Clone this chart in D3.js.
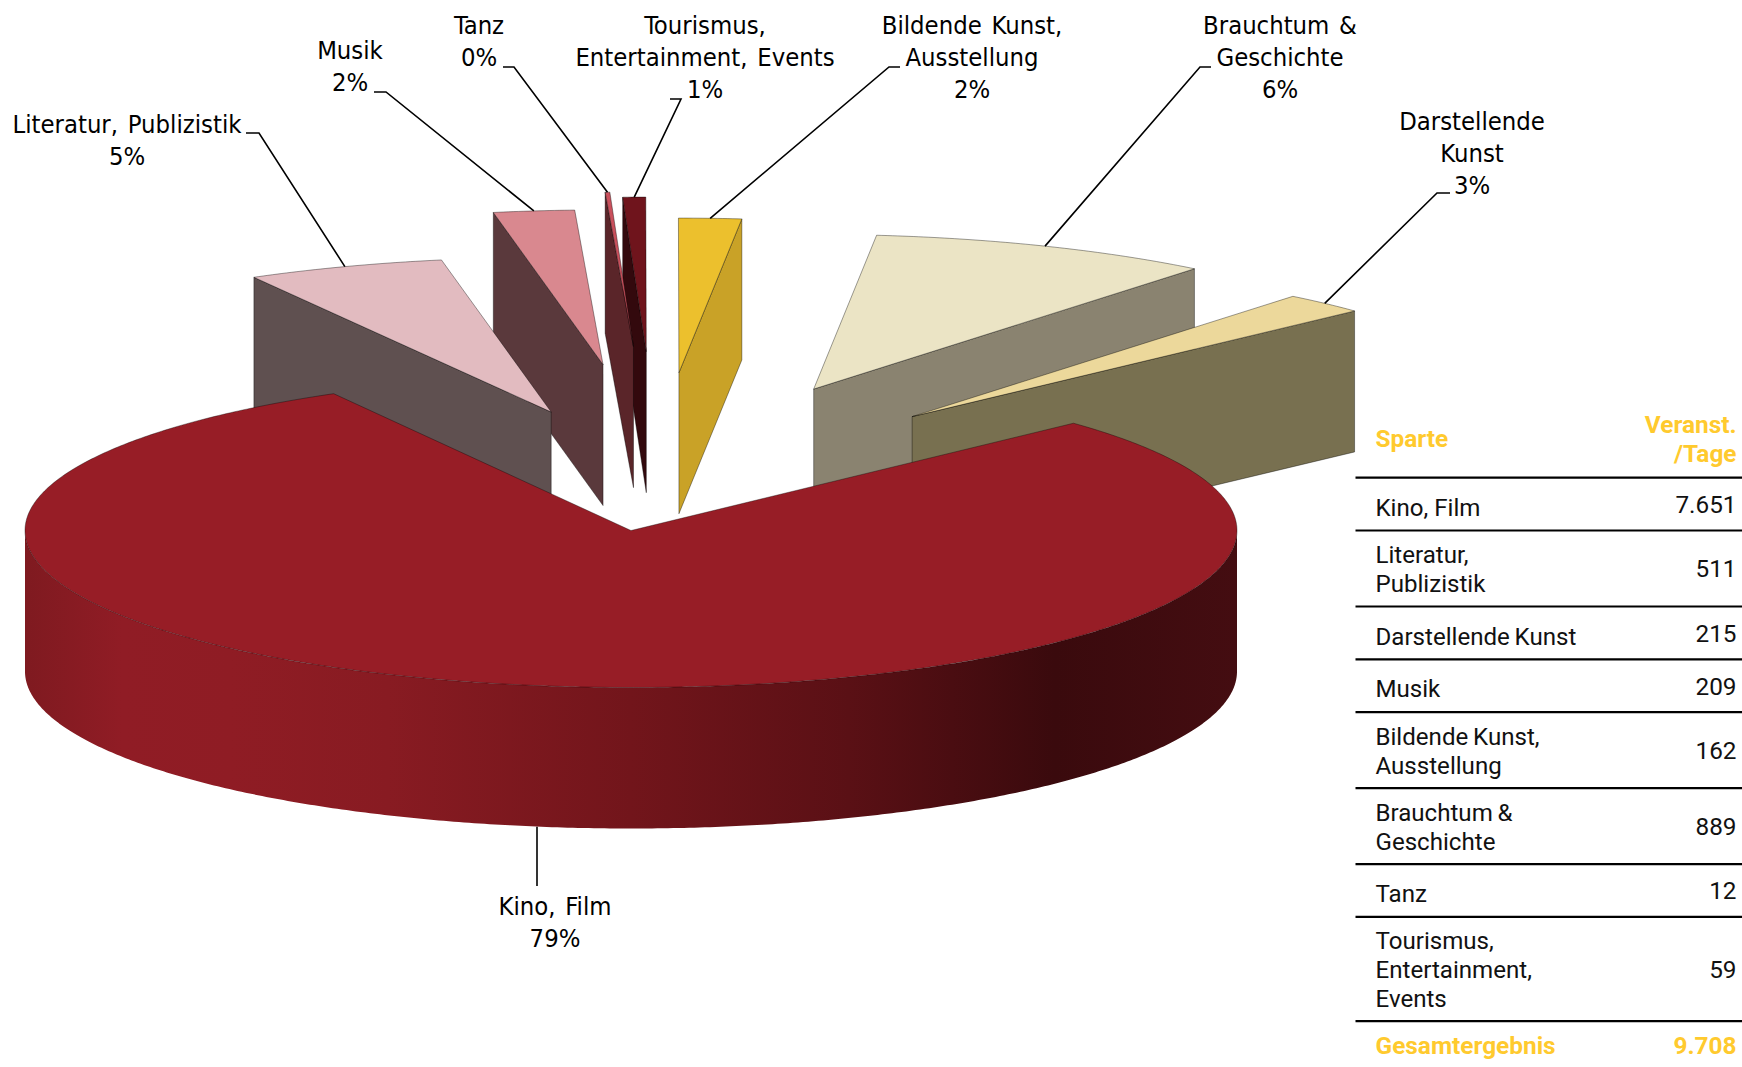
<!DOCTYPE html>
<html><head><meta charset="utf-8">
<script src="https://cdnjs.cloudflare.com/ajax/libs/d3/7.8.5/d3.min.js"></script>
<style>html,body{margin:0;padding:0;background:#fff}svg{display:block}</style></head>
<body><svg id="c" width="1742" height="1067"></svg>
<script>
// ---- data ----
const categories = ["Kino, Film","Literatur, Publizistik","Musik","Tanz","Tourismus, Entertainment, Events","Bildende Kunst, Ausstellung","Brauchtum & Geschichte","Darstellende Kunst"];
const pieValues  = [7651,511,209,12,59,162,889,215];
const pctLabels  = ["79%","5%","2%","0%","1%","2%","6%","3%"];
const labelLines = [["Kino, Film"],["Literatur, Publizistik"],["Musik"],["Tanz"],["Tourismus,","Entertainment, Events"],["Bildende Kunst,","Ausstellung"],["Brauchtum &","Geschichte"],["Darstellende","Kunst"]];
// how far each slice is pulled out of the pie (radius units) and in which bearing (degrees)
const explodeDist    = [0,.766,1.058,1.171,1.139,1.008,.950,.861];
const explodeBearing = [0,-9.9,-2.5,.2,1.27,4.5,18.5,32.6];
const topColors  = ["#971d26","#e2bbc0","#d9888f","#c9505c","#6f141c","#ecc02d","#ebe4c5","#ecd89b"];
const sideColors = ["#5a1016","#5f5050","#5a393c","#5a2529","#33090d","#c9a227","#8a8370","#787050"];
const drawOrder  = [4,3,2,1,5,6,7,0];
const labelX     = [555,127,350,479,705,972,1280,1472];
const labelY     = [915,133,59,34,34,34,34,129.5];
const elbowStart = [null,[246,133],[374,92],[503,67],[670,99],[900,67],[1211,67],[1450,193]];
const elbowEnd   = [[537,886],[259,133],[386,92],[514,67],[681,99],[889,67],[1200,67],[1437,193]];

const tableCats  = [["Kino, Film"],["Literatur,","Publizistik"],["Darstellende Kunst"],["Musik"],["Bildende Kunst,","Ausstellung"],["Brauchtum &","Geschichte"],["Tanz"],["Tourismus,","Entertainment,","Events"]];
const tableVals  = [7651,511,215,209,162,889,12,59];
const tableHead  = ["Sparte",["Veranst.","/Tage"]];
const totalLabel = "Gesamtergebnis";

// ---- geometry ----
const cx=631, cy=530.5, rx=606, ry=157, depth=141, startBearing=46.9, looseRim=.985;
const sx=d3.scaleLinear().domain([-1,1]).range([cx-rx,cx+rx]);
const sy=d3.scaleLinear().domain([-1,1]).range([cy-ry,cy+ry]);
const rad=d=>d*Math.PI/180;
const arcs=d3.pie().sort(null).startAngle(rad(startBearing)).endAngle(rad(startBearing+360))(pieValues);
const svg=d3.select("#c");
const defs=svg.append("defs");
const grad=defs.append("linearGradient").attr("id","wall").attr("gradientUnits","userSpaceOnUse")
  .attr("x1",sx(-1)).attr("x2",sx(1)).attr("y1",0).attr("y2",0);
[[0,"#7f1a20"],[.08,"#901c25"],[.17,"#8f1c24"],[.3,"#881b22"],[.5,"#72151b"],[.68,"#5a1015"],[.85,"#3a0a0d"],[1,"#440d11"]]
 .forEach(([o,c])=>grad.append("stop").attr("offset",o).attr("stop-color",c));

const lineGen=d3.line();
const ux=b=>Math.sin(b), uy=b=>-Math.cos(b);
function apex(i){const d=explodeDist[i],b=rad(explodeBearing[i]);return [d*ux(b),d*uy(b)];}
function pt(i,b,r=1,z=0){const a=apex(i);const k=i===0?1:looseRim;return [sx(a[0]+r*ux(b)),sy(a[1]+r*k*uy(b))+z];}
function rim(i,a0,a1,z=0){const n=Math.max(2,Math.ceil(Math.abs(a1-a0)/rad(.5)));
  return d3.range(n+1).map(k=>pt(i,a0+(a1-a0)*k/n,1,z));}

const stroke={stroke:"#000","stroke-opacity":.55,"stroke-width":.7,"stroke-linejoin":"round"};
function face(pts,fill,s){const p=svg.append("path").attr("d",lineGen(pts)+"Z").attr("fill",fill);
  Object.entries(s||stroke).forEach(([k,v])=>p.attr(k,v));return p;}
const signedBearing=b=>{const d=((b*180/Math.PI)%360+360)%360;return d>180?d-360:d;};

drawOrder.forEach(i=>{
  const a=arcs[i], s=a.startAngle, e=a.endAngle;
  const topPts=[pt(i,0,0)].concat(rim(i,s,e));
  if(i===0){
    // outer wall: only the half facing the viewer
    const front=rim(i,rad(90),rad(270));
    const back=rim(i,rad(270),rad(90),depth);
    face(front.concat(back),"url(#wall)",{stroke:"none"});
  }else{
    // cut face seen from the front: whichever edge lies further from 12 o'clock
    const b=Math.abs(signedBearing(s))>Math.abs(signedBearing(e))?s:e;
    const p0=pt(i,0,0),p1=pt(i,b);
    face([p0,p1,[p1[0],p1[1]+depth],[p0[0],p0[1]+depth]],sideColors[i]);
  }
  face(topPts,topColors[i],i===0?{stroke:"#000","stroke-opacity":.5,"stroke-width":.7}:stroke);
});

// leader lines
arcs.forEach((a,i)=>{
  const mid=(a.startAngle+a.endAngle)/2;
  const tip=pt(i,mid,1,i===0?depth:0);
  const pts=i===0?[[elbowEnd[i][0],tip[1]],elbowEnd[i]]:[tip,elbowEnd[i],elbowStart[i]];
  svg.append("path").attr("d",lineGen(pts)).attr("fill","none").attr("stroke","#000").attr("stroke-width",1.6);
});

// slice labels
const labelFont='"DejaVu Sans Condensed","DejaVu Sans",sans-serif';
categories.forEach((c,i)=>{
  const g=svg.append("text").attr("font-family",labelFont).attr("font-size",25.4).attr("fill","#000")
    .attr("font-stretch","condensed").attr("text-anchor","middle").attr("word-spacing",2.5);
  labelLines[i].concat([pctLabels[i]]).forEach((t,k)=>g.append("tspan").attr("x",labelX[i]).attr("y",labelY[i]+k*32.2).text(t));
});

// table
const de=d3.formatLocale({decimal:",",thousands:".",grouping:[3],currency:["","€"]}).format(",d");
const tf="Roboto,sans-serif", gold="#ffca2e", tl=1375.5, tr=1736.5, ruleL=1355.5, ruleR=1742;
const rowTop=477.7, rowH=d=>d.length===1?52.8:d.length===2?76:104.3;
const rule=y=>svg.append("line").attr("x1",ruleL).attr("x2",ruleR).attr("y1",y).attr("y2",y).attr("stroke","#000").attr("stroke-width",2.2);
const txt=(x,y,t,o={})=>svg.append("text").attr("x",x).attr("y",y).attr("font-family",tf).attr("font-size",o.size||24.1)
  .attr("font-weight",o.bold?700:400).attr("fill",o.fill||"#111").attr("text-anchor",o.anchor||"start")
  .attr("word-spacing",o.ws||0).text(t);
txt(tl,447,tableHead[0],{bold:1,fill:gold,size:24.4});
tableHead[1].forEach((t,k)=>txt(tr,433+k*28.7,t,{bold:1,fill:gold,anchor:"end",size:24.4}));
rule(rowTop);
let y=rowTop;
tableCats.forEach((lines,r)=>{
  const h=rowH(lines), c=y+h/2;
  const first=lines.length===1?c+11.6:c+9-(lines.length-1)*14.4;
  lines.forEach((t,k)=>txt(tl,first+k*28.9,t,{ws:/Kunst|&/.test(t)?-1.2:0}));
  txt(tr,c+8.8,de(tableVals[r]),{size:24.3,anchor:"end"});
  y+=h; rule(y);
});
txt(tl,1054,totalLabel,{bold:1,fill:gold,size:24.4});
txt(tr,1054,de(d3.sum(tableVals)),{bold:1,fill:gold,anchor:"end",size:24.4});
</script></body></html>
